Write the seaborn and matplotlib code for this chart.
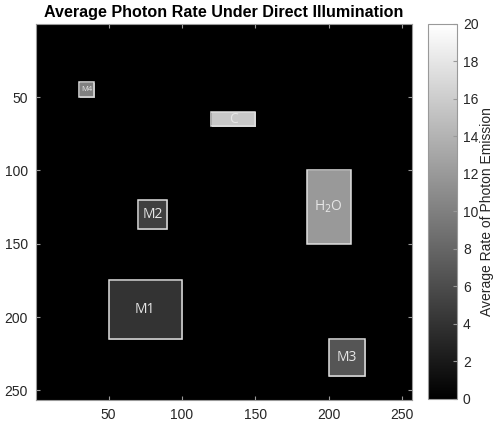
import numpy as np
import seaborn as sns
import matplotlib
matplotlib.use("Agg")
import matplotlib.pyplot as plt
from matplotlib.patches import Rectangle

# 區域資料 (x, y 為左上角, MATLAB 座標)
names = ["M1", "M2", "M3", "M4", "C", "H$_2$O"]
x0 = [50, 70, 200, 30, 120, 185]
x1 = [100, 90, 225, 40, 150, 215]
y0 = [175, 120, 215, 40, 60, 100]
y1 = [215, 140, 240, 50, 70, 150]
rates = [4, 5, 6.7, 10, 15.7, 12]
label_sizes = [10, 10, 10, 5.5, 10, 10]

size = 256
img = np.zeros((size, size))
for i in range(len(names)):
    img[y0[i]:y1[i], x0[i]:x1[i]] = rates[i]

plt.rcParams["font.family"] = ["Liberation Sans", "DejaVu Sans"]

fig = plt.figure(figsize=(4.96, 4.25), dpi=100)
ax = fig.add_axes([36 / 496, 1 - 400 / 425, 375.5 / 496, 375.6 / 425])
cax = fig.add_axes([427.7 / 496, 1 - 398.5 / 425, 29 / 496, 374.5 / 425])

sns.heatmap(img, cmap="gray", vmin=0, vmax=20, ax=ax, cbar_ax=cax,
            xticklabels=False, yticklabels=False, square=False,
            cbar_kws={"ticks": range(0, 21, 2)})

# 標記區域
for i in range(len(names)):
    ax.add_patch(Rectangle((x0[i] - 0.5, y0[i] - 0.5), x1[i] - x0[i], y1[i] - y0[i],
                           fill=False, edgecolor="#e0e0e0", linewidth=1.1))
    ax.text((x0[i] + x1[i]) / 2 - 0.5, (y0[i] + y1[i]) / 2 - 0.5, names[i],
            color="#e6e6e6", fontsize=label_sizes[i], ha="center", va="center",
            family=["Open Sans", "DejaVu Sans"])

ticks = [50, 100, 150, 200, 250]
ax.set_xticks([t - 0.5 for t in ticks])
ax.set_xticklabels(ticks)
ax.set_yticks([t - 0.5 for t in ticks])
ax.set_yticklabels(ticks, rotation=0)
ax.tick_params(direction="in", length=3, colors="#999999", labelcolor="#262626",
               labelsize=10, top=True, right=True, pad=6)
for s in ax.spines.values():
    s.set_visible(True)
    s.set_color("#999999")
    s.set_linewidth(0.8)

ax.set_title("Average Photon Rate Under Direct Illumination", fontweight="bold",
             fontsize=11.6, pad=5, color="black")

cbar = ax.collections[0].colorbar
cbar.outline.set_visible(True)
cbar.outline.set_edgecolor("#999999")
cbar.outline.set_linewidth(0.8)
cax.tick_params(direction="in", length=3, colors="#999999", labelcolor="#262626",
                labelsize=10, pad=4.5)
cbar.set_label("Average Rate of Photon Emission", fontsize=10, color="#262626", labelpad=1)

fig.savefig("out.png", dpi=100)
